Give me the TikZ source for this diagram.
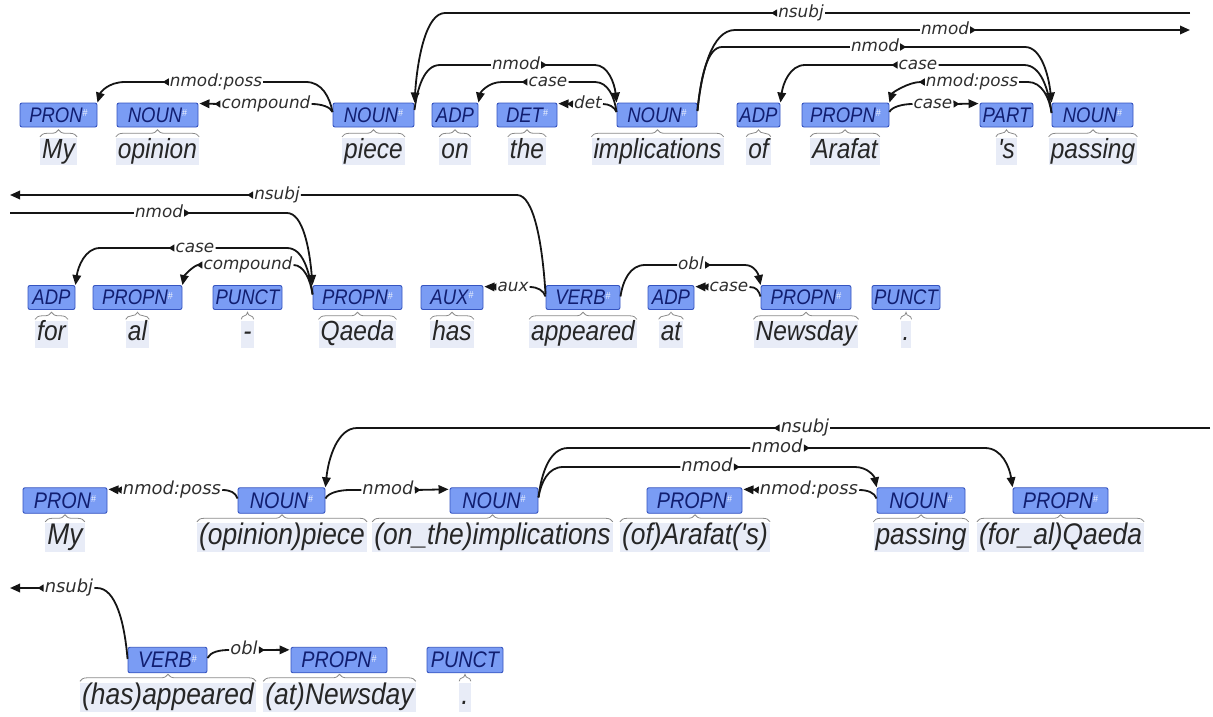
\documentclass[tikz,border=0pt]{standalone}
\usepackage{fontspec}
\usepackage{graphicx}
\setmainfont{Liberation Sans}
\newfontfamily\lblfont{DejaVu Sans}
\usetikzlibrary{arrows.meta,calc,decorations.pathreplacing}
\definecolor{tagfill}{HTML}{7A9CF4}
\definecolor{tagdraw}{HTML}{3554C0}
\definecolor{tagtxt}{HTML}{111E70}
\definecolor{wordbg}{HTML}{E8ECF7}
\definecolor{wordtxt}{HTML}{262626}
\definecolor{arccol}{HTML}{151515}
\definecolor{lbltxt}{HTML}{2E2E2E}
\definecolor{brcol}{HTML}{8A8A8A}
\newsavebox\vsbox
\newcommand\hsh{\raisebox{5pt}{\fontsize{9}{9}\selectfont\upshape\color{white!85!tagfill}\#}}
\begin{document}
\begin{tikzpicture}[x=1pt,y=-1pt,
  vstretch/.style={execute at begin node={\begin{lrbox}{\vsbox}},execute at end node={\end{lrbox}\scalebox{1}[#1]{\usebox{\vsbox}}}},
  tagA/.style={draw=tagdraw,fill=tagfill,line width=0.9pt,rounded corners=2pt,inner sep=0pt,minimum height=24pt,minimum width=#1,text=tagtxt,font=\fontsize{18.5}{20}\selectfont\itshape,vstretch=1.14},
  tagB/.style={tagA=#1,minimum height=25.5pt,font=\fontsize{19.8}{21}\selectfont\itshape},
  wordA/.style={fill=wordbg,text=wordtxt,inner xsep=2pt,inner ysep=1.5pt,text height=18.5pt,text depth=5.5pt,font=\fontsize{24.5}{26}\selectfont\itshape,vstretch=1.13},
  wordB/.style={wordA,text height=20pt,text depth=6pt,font=\fontsize{26.4}{28}\selectfont\itshape},
  lblA/.style={inner sep=1pt,text=lbltxt,text height=12.5pt,text depth=4pt,font=\lblfont\fontsize{16.8}{18}\selectfont\itshape},
  lblB/.style={lblA,text height=13.3pt,text depth=4.3pt,font=\lblfont\fontsize{17.9}{19}\selectfont\itshape},
  arc/.style={draw=arccol,line width=1.8pt},
  dep/.style={arc,arrows={Triangle[reversed,length=6pt,width=7pt]-Triangle[length=10pt,width=8.5pt]}},
  brc/.style={draw=brcol,line width=0.8pt,decorate,decoration={brace,amplitude=7pt}}
]
\useasboundingbox (0,0) rectangle (1213,716);
% ---------- row 1 ----------
\node[tagA=77] (t1) at (58.5,115) {PRON\hsh};
\node[tagA=81] (t2) at (157.5,115) {NOUN\hsh};
\node[tagA=81] (t3) at (373.5,115) {NOUN\hsh};
\node[tagA=46] (t4) at (455,115) {ADP};
\node[tagA=60] (t5) at (527,115) {DET\hsh};
\node[tagA=80] (t6) at (657,115) {NOUN\hsh};
\node[tagA=43] (t7) at (758.5,115) {ADP};
\node[tagA=87] (t8) at (845.5,115) {PROPN\hsh};
\node[tagA=53] (t9) at (1006.5,115) {PART};
\node[tagA=81] (t10) at (1092.5,115) {NOUN\hsh};
\node[wordA] (w1) at (58.5,151.5) {My};
\node[wordA] (w2) at (157.5,151.5) {opinion};
\node[wordA] (w3) at (373.5,151.5) {piece};
\node[wordA] (w4) at (455,151.5) {on};
\node[wordA] (w5) at (527,151.5) {the};
\node[wordA] (w6) at (657.5,151.5) {implications};
\node[wordA] (w7) at (758.5,151.5) {of};
\node[wordA] (w8) at (845,151.5) {Arafat};
\node[wordA] (w9) at (1006.5,151.5) {\textquotesingle s};
\node[wordA] (w10) at (1093,151.5) {passing};
% ---------- row 2 ----------
\node[tagA=47] (u1) at (51.5,297.5) {ADP};
\node[tagA=89] (u2) at (137.5,297.5) {PROPN\hsh};
\node[tagA=69] (u3) at (247.5,297.5) {PUNCT};
\node[tagA=89] (u4) at (357.5,297.5) {PROPN\hsh};
\node[tagA=62] (u5) at (452,297.5) {AUX\hsh};
\node[tagA=74] (u6) at (583,297.5) {VERB\hsh};
\node[tagA=46] (u7) at (671,297.5) {ADP};
\node[tagA=90] (u8) at (806,297.5) {PROPN\hsh};
\node[tagA=68] (u9) at (906,297.5) {PUNCT};
\node[wordA] (r1) at (51.5,334) {for};
\node[wordA] (r2) at (137.5,334) {al};
\node[wordA] (r3) at (247.5,334) {-};
\node[wordA] (r4) at (357.5,334) {Qaeda};
\node[wordA] (r5) at (452,334) {has};
\node[wordA] (r6) at (583,334) {appeared};
\node[wordA] (r7) at (671,334) {at};
\node[wordA] (r8) at (806,334) {Newsday};
\node[wordA] (r9) at (906,334) {.};
% ---------- row 3 ----------
\node[tagB=84] (v1) at (65,500.5) {PRON\hsh};
\node[tagB=87] (v2) at (281.5,500.5) {NOUN\hsh};
\node[tagB=88] (v3) at (494,500.5) {NOUN\hsh};
\node[tagB=95] (v4) at (694.5,500.5) {PROPN\hsh};
\node[tagB=88] (v5) at (921,500.5) {NOUN\hsh};
\node[tagB=95] (v6) at (1060.5,500.5) {PROPN\hsh};
\node[wordB] (y1) at (65,537.5) {My};
\node[wordB] (y2) at (282,537.5) {(opinion)piece};
\node[wordB] (y3) at (492.5,537.5) {(on\_the)implications};
\node[wordB] (y4) at (695,537.5) {(of)Arafat(\textquotesingle s)};
\node[wordB] (y5) at (921,537.5) {passing};
\node[wordB] (y6) at (1060.5,537.5) {(for\_al)Qaeda};
% ---------- row 4 ----------
\node[tagB=79] (x1) at (167.5,660) {VERB\hsh};
\node[tagB=96] (x2) at (339,660) {PROPN\hsh};
\node[tagB=76] (x3) at (465,660) {PUNCT};
\node[wordB] (z1) at (168,697) {(has)appeared};
\node[wordB] (z2) at (339.5,697) {(at)Newsday};
\node[wordB] (z3) at (465,697) {.};
% braces
\foreach \n in {w1,w2,w3,w4,w5,w6,w7,w8,w9,w10,r1,r2,r3,r4,r5,r6,r7,r8,r9,y1,y2,y3,y4,y5,y6,z1,z2,z3}
  \draw[brc] ($(\n.north west)+(0,-1)$) -- ($(\n.north east)+(0,-1)$);
% ---------- labels ----------
\node[lblA] (l1) at (216,82) {nmod:poss};
\node[lblA] (l2) at (266,104) {compound};
\node[lblA] (l3) at (801,13) {nsubj};
\node[lblA] (l4) at (516,65) {nmod};
\node[lblA] (l5) at (548,82) {case};
\node[lblA] (l6) at (588,104) {det};
\node[lblA] (l7) at (875,47) {nmod};
\node[lblA] (l8) at (945,30) {nmod};
\node[lblA] (l9) at (918,65) {case};
\node[lblA] (l10) at (972,82) {nmod:poss};
\node[lblA] (l11) at (933,104) {case};
\node[lblA] (l3b) at (277,195) {nsubj};
\node[lblA] (l8b) at (159,213) {nmod};
\node[lblA] (l12) at (195,248) {case};
\node[lblA] (l13) at (248,265) {compound};
\node[lblA] (l14) at (513,287) {aux};
\node[lblA] (l15) at (691,265) {obl};
\node[lblA] (l16) at (729,287) {case};
\node[lblB] (l17) at (172,490) {nmod:poss};
\node[lblB] (l18) at (388,490) {nmod};
\node[lblB] (l19) at (805,428) {nsubj};
\node[lblB] (l19b) at (69,588) {nsubj};
\node[lblB] (l20) at (707,467) {nmod};
\node[lblB] (l21) at (777,448) {nmod};
\node[lblB] (l22) at (809,490) {nmod:poss};
\node[lblB] (l23) at (244,650) {obl};
% free ends
\coordinate (nsR) at (1190,13);
\coordinate (nmR) at (1190,30);
\coordinate (nsL) at (10,195);
\coordinate (nmL) at (10,213);
\coordinate (nsR2) at (1210,428);
\coordinate (nsL2) at (10,588);
% ---------- arcs row 1 ----------
\draw[arc] ($(t3.west)+(0,-3)$) .. controls +(-3,-15) and +(16,0) .. (306,82) -- (l1.east);
\draw[dep] (l1.west) -- (125,82) .. controls +(-17,0) and +(3,-10) .. (t1.north east);
\draw[arc] ($(t3.west)+(0,-3)$) .. controls +(-2,-5) and +(10,0) .. (l2.east);
\draw[dep] (l2.west) -- ($(t2.north east)+(1,1)$);
\draw[arc] (nsR) -- (l3.east);
\draw[dep] (l3.west) -- (445,13) .. controls +(-19,0) and +(3,-44) .. (t3.north east);
\draw[arc] ($(t3.east)+(0,-5)$) .. controls +(3,-22) and +(-16,0) .. (440,65) -- (l4.west);
\draw[dep] (l4.east) -- (595,65) .. controls +(13,0) and +(-2,-19) .. (t6.north west);
\draw[arc] ($(t6.west)+(0,-3)$) .. controls +(-2,-15) and +(13,0) .. (595,82) -- (l5.east);
\draw[dep] (l5.west) -- (502,82) .. controls +(-14,0) and +(2,-10) .. (t4.north east);
\draw[arc] ($(t6.west)+(0,-3)$) .. controls +(-2,-5) and +(6,0) .. (l6.east);
\draw[dep] (l6.west) -- ($(t5.north east)+(1,1)$);
\draw[arc] ($(t6.east)+(0,-4)$) .. controls +(3,-32) and +(-15,0) .. (722,47) -- (l7.west);
\draw[dep] (l7.east) -- (1025,47) .. controls +(16,0) and +(-3,-28) .. (t10.north west);
\draw[arc] ($(t6.east)+(0,-4)$) .. controls +(4,-40) and +(-23,0) .. (735,30) -- (l8.west);
\draw[dep] (l8.east) -- (nmR);
\draw[arc] ($(t10.west)+(0,-2)$) .. controls +(-3,-24) and +(17,0) .. (1024,65) -- (l9.east);
\draw[dep] (l9.west) -- (805,65) .. controls +(-15,0) and +(2.5,-19) .. (t7.north east);
\draw[arc] ($(t10.west)+(0,-2)$) .. controls +(-2,-15) and +(14,0) .. (1028,82) -- (l10.east);
\draw[dep] (l10.west) .. controls +(-16,0) and +(3,-10) .. (t8.north east);
\draw[arc] ($(t8.east)+(0,-3)$) .. controls +(2,-5) and +(-10,0) .. (l11.west);
\draw[dep] (l11.east) -- ($(t9.north west)+(-1,1)$);
% ---------- arcs row 2 ----------
\draw[arc] ($(u6.west)+(0,-3)$) .. controls +(-3,-50) and +(17,0) .. (517,195) -- (l3b.east);
\draw[dep] (l3b.west) -- (nsL);
\draw[arc] (nmL) -- (l8b.west);
\draw[dep] (l8b.east) -- (287,213) .. controls +(16,0) and +(-3,-36) .. (u4.north west);
\draw[arc] ($(u4.west)+(0,-3)$) .. controls +(-3,-23) and +(16,0) .. (287,248) -- (l12.east);
\draw[dep] (l12.west) -- (100,248) .. controls +(-15,0) and +(2.5,-18) .. (u1.north east);
\draw[arc] ($(u4.west)+(0,-3)$) .. controls +(-2,-15) and +(10,0) .. (l13.east);
\draw[dep] (l13.west) .. controls +(-8,0) and +(2,-10) .. (u2.north east);
\draw[arc] ($(u6.west)+(0,-1)$) .. controls +(-2,-6) and +(8,0) .. (l14.east);
\draw[dep] (l14.west) -- ($(u5.north east)+(1,1.5)$);
\draw[arc] ($(u6.east)+(0,-1)$) .. controls +(2.5,-16) and +(-15,0) .. (645,265) -- (l15.west);
\draw[dep] (l15.east) -- (745,265) .. controls +(10,0) and +(-2,-10) .. (u8.north west);
\draw[arc] ($(u8.west)+(0,-1)$) .. controls +(-2,-6) and +(7,0) .. (l16.east);
\draw[dep] (l16.west) -- ($(u7.north east)+(1,1.5)$);
% ---------- arcs row 3 ----------
\draw[arc] ($(v2.west)+(0,-2)$) .. controls +(-2,-6) and +(8,0) .. (l17.east);
\draw[dep] (l17.west) -- ($(v1.north east)+(1,2)$);
\draw[arc] ($(v2.east)+(0,-2)$) .. controls +(3,-6) and +(-10,0) .. (350,490) -- (l18.west);
\draw[dep] (l18.east) -- ($(v3.north west)+(-1,2)$);
\draw[arc] (nsR2) -- (l19.east);
\draw[dep] (l19.west) -- (357,428) .. controls +(-19,0) and +(3,-30) .. (v2.north east);
\draw[arc] ($(v3.east)+(0,-3)$) .. controls +(2.5,-15) and +(-15,0) .. (563,467) -- (l20.west);
\draw[dep] (l20.east) -- (855,467) .. controls +(13,0) and +(-2,-10.5) .. (v5.north west);
\draw[arc] ($(v3.east)+(0,-3)$) .. controls +(3,-25) and +(-18,0) .. (568,448) -- (l21.west);
\draw[dep] (l21.east) -- (985,448) .. controls +(17,0) and +(-3,-20) .. (v6.north west);
\draw[arc] ($(v5.west)+(0,-2)$) .. controls +(-2,-6) and +(8,0) .. (l22.east);
\draw[dep] (l22.west) -- ($(v4.north east)+(1,2)$);
% ---------- arcs row 4 ----------
\draw[arc] ($(x1.west)+(0,-1)$) .. controls +(-3,-36) and +(19,0) .. (97,588) -- (l19b.east);
\draw[dep] (l19b.west) -- (nsL2);
\draw[arc] ($(x1.east)+(0,-2)$) .. controls +(3,-6) and +(-10,0) .. (l23.west);
\draw[dep] (l23.east) -- ($(x2.north west)+(-1,3)$);
\end{tikzpicture}
\end{document}
